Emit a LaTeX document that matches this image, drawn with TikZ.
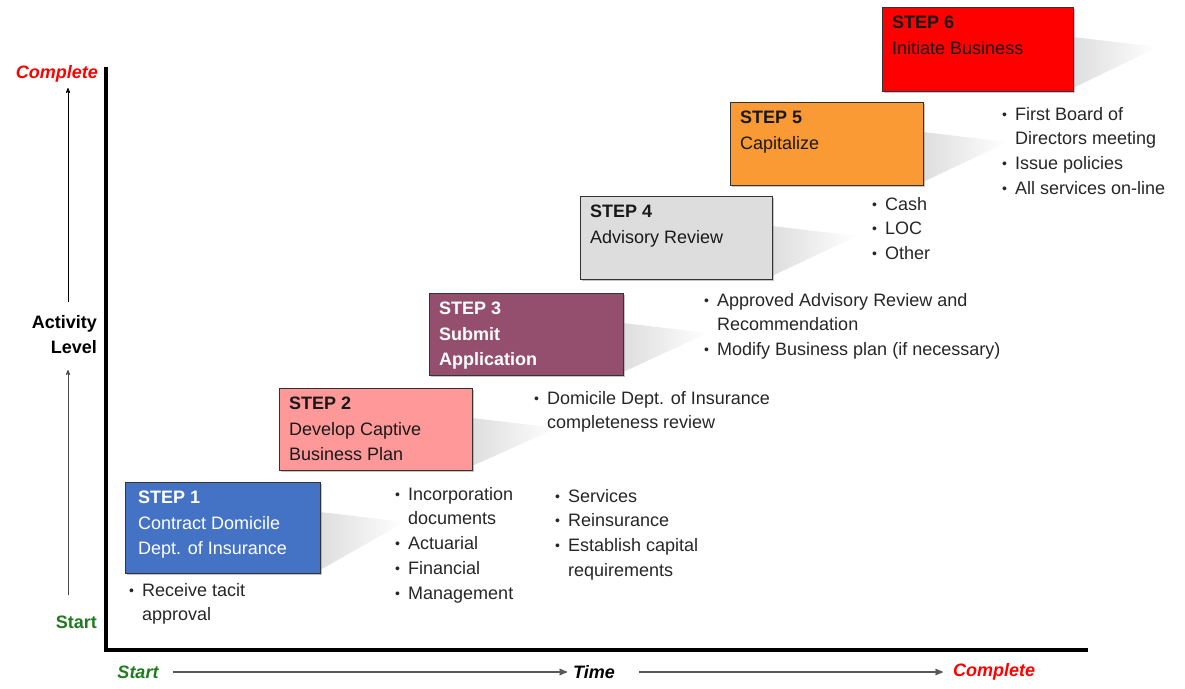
\documentclass[tikz,border=0pt]{standalone}
\usepackage{fontspec}
\setmainfont{Liberation Sans}
\usetikzlibrary{arrows, positioning, shadows}
\definecolor{stepblue}{HTML}{4472C4}
\definecolor{steppink}{HTML}{FF9999}
\definecolor{stepplum}{HTML}{944E6E}
\definecolor{stepgrey}{HTML}{DDDDDD}
\definecolor{steporange}{HTML}{FA9A34}
\definecolor{stepred}{HTML}{FF0000}
\definecolor{startgreen}{HTML}{1E7B1E}
\newcommand{\bul}{\makebox[13pt][l]{\raisebox{1pt}{\fontsize{14}{14}\selectfont\textbullet}}}
\newcommand{\ind}{\hspace*{13pt}}
\tikzset{
>=stealth', % arrow heads
every node/.style={inner sep=0pt},
stepbox/.style={draw=black!80, line width=0.8pt, anchor=north west,
  drop shadow={shadow xshift=1.5pt, shadow yshift=-1.5pt, fill=black!45}},
steptext/.style={anchor=north west, align=left, font=\fontsize{18}{25.5}\selectfont},
bullets/.style={anchor=north west, align=left, text=black!85, font=\fontsize{18}{24.7}\selectfont},
ramp/.style={left color=black!13, right color=white},
axisline/.style={line width=4pt, line join=miter},
axisarrow/.style={->, line width=0.8pt},
axislabel/.style={font=\fontsize{18}{25}\selectfont\bfseries},
}
\begin{document}
\begin{tikzpicture}[x=1pt, y=-1pt]
\useasboundingbox (0,0) rectangle (1185,688);
% fading ramps behind the steps
\foreach \r/\t/\b in {320/482/573, 472/388/469, 623/293/375, 772/196/279, 923/102/185, 1073/7/91}
  \shade[ramp] (\r,\t+30) -- (\r+85,\t+40) -- (\r,\b-3) -- cycle;
% axes
\draw[axisline] (106,67) -- (106,650) -- (1088,650);
% steps
\node[stepbox, fill=stepblue, minimum width=195pt, minimum height=91pt] (s1) at (125,482) {};
\node[stepbox, fill=steppink, minimum width=193pt, minimum height=82pt] (s2) at (279,388) {};
\node[stepbox, fill=stepplum, minimum width=194pt, minimum height=82pt] (s3) at (429,293) {};
\node[stepbox, fill=stepgrey, minimum width=192pt, minimum height=83pt] (s4) at (580,196) {};
\node[stepbox, fill=steporange, minimum width=193pt, minimum height=83pt] (s5) at (730,102) {};
\node[stepbox, fill=stepred, minimum width=191pt, minimum height=84pt] (s6) at (882,7) {};
\node[steptext, text=white] (t1) at ([xshift=13pt, yshift=-9pt]s1.north west)
  {\textbf{STEP 1}\\Contract Domicile\\Dept. of Insurance};
\node[steptext, text=black!90] (t2) at ([xshift=10pt, yshift=-9pt]s2.north west)
  {\textbf{STEP 2}\\Develop Captive\\Business Plan};
\node[steptext, text=white, font=\fontsize{18}{25.5}\selectfont\bfseries] (t3) at ([xshift=10pt, yshift=-9pt]s3.north west)
  {STEP 3\\Submit\\Application};
\node[steptext, text=black!90] (t4) at ([xshift=10pt, yshift=-9pt]s4.north west)
  {\textbf{STEP 4}\\Advisory Review};
\node[steptext, text=black!90] (t5) at ([xshift=10pt, yshift=-9pt]s5.north west)
  {\textbf{STEP 5}\\Capitalize};
\node[steptext, text=black!90] (t6) at ([xshift=10pt, yshift=-9pt]s6.north west)
  {\textbf{STEP 6}\\Initiate Business};
% bullet lists
\node[bullets] (b1) at (129,583) {\bul Receive tacit\\\ind approval};
\node[bullets] (b2a) at (395,487) {\bul Incorporation\\\ind documents\\\bul Actuarial\\\bul Financial\\\bul Management};
\node[bullets] (b2b) at (555,489) {\bul Services\\\bul Reinsurance\\\bul Establish capital\\\ind requirements};
\node[bullets] (b3) at (534,391) {\bul Domicile Dept. of Insurance\\\ind completeness review};
\node[bullets] (b4) at (704,293) {\bul Approved Advisory Review and\\\ind Recommendation\\\bul Modify Business plan (if necessary)};
\node[bullets] (b5) at (872,197) {\bul Cash\\\bul LOC\\\bul Other};
\node[bullets] (b6) at (1002,107) {\bul First Board of\\\ind Directors meeting\\\bul Issue policies\\\bul All services on-line};
% vertical axis labels
\node[axislabel, text=stepred, font=\fontsize{18}{25}\selectfont\bfseries\itshape, anchor=east] (vtop) at (98,74) {Complete};
\node[axislabel, align=right, anchor=east] (vmid) at (97,335) {Activity\\Level};
\node[axislabel, text=startgreen, anchor=east] (vbot) at (97,622) {Start};
\coordinate (upA) at (68,302);
\coordinate (upB) at (68,88);
\coordinate (loA) at (68,595);
\coordinate (loB) at (68,370);
\draw[axisarrow] (upA) -- (upB);
\draw[axisarrow, black!70] (loA) -- (loB);
% horizontal axis labels
\node[axislabel, text=startgreen, font=\fontsize{18}{25}\selectfont\bfseries\itshape] (hbot) at (138,672) {Start};
\node[axislabel, font=\fontsize{18}{25}\selectfont\bfseries\itshape] (hmid) at (594,672) {Time};
\node[axislabel, text=stepred, font=\fontsize{18}{25}\selectfont\bfseries\itshape] (htop) at (994,672) {Complete};
\draw[axisarrow, black!65, line width=1.6pt, shorten <=14pt, shorten >=6pt] (hbot.east) -- (hmid.west);
\draw[axisarrow, black!65, line width=1.6pt, shorten <=24pt, shorten >=10pt] (hmid.east) -- (htop.west);
\end{tikzpicture}
\end{document}
